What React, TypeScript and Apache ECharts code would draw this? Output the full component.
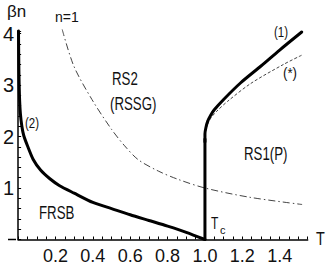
import React, { useEffect, useRef } from "react";
import * as echarts from "echarts";

const xTickLabels = ["0.2", "0.4", "0.6", "0.8", "1.0", "1.2", "1.4"];
const yTickLabels = ["1", "2", "3", "4"];

// curve (2): FRSB / RS2 boundary
const curve2T = [0.002, 0.004, 0.007, 0.012, 0.02, 0.03, 0.05, 0.08, 0.12, 0.17, 0.22, 0.3, 0.4, 0.5, 0.6, 0.7, 0.8, 0.9, 1.0];
const curve2B = [4.05, 3.3, 2.8, 2.45, 2.2, 2.02, 1.82, 1.56, 1.35, 1.18, 1.05, 0.9, 0.72, 0.6, 0.48, 0.37, 0.26, 0.14, 0.0];

// curve (1): vertical part at Tc, then the RS2 / RS1 boundary
const tcLineT = [1.0, 1.0];
const tcLineB = [0.0, 1.95];
const curve1T = [1.0, 1.0, 1.005, 1.015, 1.03, 1.05, 1.1, 1.19, 1.3, 1.4, 1.518];
const curve1B = [1.9, 2.05, 2.17, 2.3, 2.41, 2.52, 2.72, 3.04, 3.37, 3.68, 4.03];

// curve (*)
const starT = [1.0, 1.01, 1.03, 1.06, 1.12, 1.245, 1.42, 1.518];
const starB = [2.05, 2.2, 2.35, 2.48, 2.68, 3.03, 3.4, 3.58];

// n = 1 line
const n1T = [0.236, 0.298, 0.395, 0.5, 0.57, 0.643, 0.75, 0.855, 1.0, 1.24, 1.52];
const n1B = [4.08, 3.37, 2.72, 2.14, 1.82, 1.55, 1.33, 1.17, 1.0, 0.82, 0.68];

const zip = (a: number[], b: number[]) => a.map((v, i) => [v, b[i]]);

const FONT = "'Liberation Sans', Arial, sans-serif";

export default function App() {
  const ref = useRef<HTMLDivElement>(null);
  useEffect(() => {
    if (!ref.current) return;
    const chart = echarts.init(ref.current, null, { renderer: "svg" });
    const txt = (text: string, x: number, y: number, fontSize: number, scaleX = 1) => ({
      type: "text",
      x,
      y,
      scaleX,
      style: { text, fontSize, fontFamily: FONT, fill: "#111", align: "left", verticalAlign: "top" },
    });
    const thick = { color: "#000", width: 3, cap: "round", join: "round" };
    chart.setOption({
      animation: false,
      backgroundColor: "#fff",
      grid: { left: 15.5, right: 19.3, top: 31, bottom: 33.5, containLabel: false },
      xAxis: {
        type: "value",
        min: 0,
        max: 1.55,
        interval: 0.05,
        splitLine: { show: false },
        axisLine: { lineStyle: { color: "#000", width: 1.5 } },
        axisTick: { inside: true, length: 3, lineStyle: { color: "#000", width: 1 } },
        axisLabel: {
          interval: 0,
          margin: 7,
          fontSize: 18,
          fontFamily: FONT,
          color: "#111",
          formatter: (v: number) => {
            const major = Math.abs(v * 5 - Math.round(v * 5)) < 1e-6;
            const s = v.toFixed(1);
            return major && xTickLabels.includes(s) ? s : "";
          },
        },
      },
      yAxis: {
        type: "value",
        min: 0,
        max: 4.05,
        interval: 0.2,
        splitLine: { show: false },
        axisLine: { lineStyle: { color: "#000", width: 1.5 } },
        axisTick: { inside: true, length: 3, lineStyle: { color: "#000", width: 1 } },
        axisLabel: {
          interval: 0,
          margin: 4,
          fontSize: 20,
          fontFamily: FONT,
          color: "#111",
          padding: [6, 0, 0, 0],
          formatter: (v: number) => {
            const major = Math.abs(v - Math.round(v)) < 1e-6;
            const s = Math.round(v).toString();
            return major && yTickLabels.includes(s) ? s : "";
          },
        },
      },
      series: [
        {
          type: "line",
          data: zip(n1T, n1B),
          showSymbol: false,
          clip: false,
          smooth: 0.3,
          lineStyle: { color: "#444", width: 1, type: [7, 3, 1.5, 3] },
        },
        {
          type: "line",
          data: zip(starT, starB),
          showSymbol: false,
          clip: false,
          smooth: 0.3,
          lineStyle: { color: "#444", width: 1, type: [3, 2] },
        },
        {
          type: "line",
          data: zip(curve2T, curve2B),
          showSymbol: false,
          clip: false,
          smooth: 0.25,
          lineStyle: thick,
        },
        {
          type: "line",
          data: zip(tcLineT, tcLineB),
          showSymbol: false,
          clip: false,
          lineStyle: thick,
        },
        {
          type: "line",
          data: zip(curve1T, curve1B),
          showSymbol: false,
          clip: false,
          smooth: 0.25,
          lineStyle: thick,
        },
      ],
      graphic: [
        { type: "line", shape: { x1: 8, y1: 239.5, x2: 16, y2: 239.5 }, style: { stroke: "#000", lineWidth: 1.5 } },
        txt("βn", 7, 3, 17),
        txt("n=1", 55, 10, 14),
        txt("RS2", 112, 69, 19, 0.7),
        txt("(RSSG)", 110, 94, 19, 0.7),
        txt("(2)", 25, 116, 14, 0.82),
        txt("(1)", 274, 25, 14, 0.82),
        txt("(*)", 283, 66, 14, 0.95),
        txt("RS1(P)", 244, 144, 19, 0.7),
        txt("FRSB", 39, 203, 19, 0.7),
        txt("T", 211, 215, 16, 0.75),
        txt("c", 220, 224, 11),
        txt("T", 316, 229, 18, 0.8),
      ],
    });
    return () => chart.dispose();
  }, []);
  return <div ref={ref} style={{ position: "fixed", left: 0, top: 0, width: 327, height: 273 }} />;
}
